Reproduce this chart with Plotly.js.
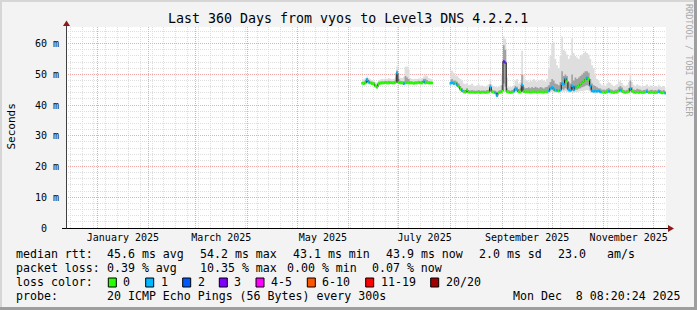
<!DOCTYPE html>
<html><head><meta charset="utf-8">
<script src="https://cdn.plot.ly/plotly-3.0.1.min.js"></script>
<style>html,body{margin:0;padding:0;background:#f3f3f3;}#chart{width:697px;height:310px;}</style>
</head><body><div id="chart"></div>
<script>
// ---------- data ----------
const rangeStart = '2024-12-13 08:20:24';
const rangeEnd = '2025-12-08 08:20:24';
const monthStarts = ['2025-01-01','2025-02-01','2025-03-01','2025-04-01','2025-05-01','2025-06-01','2025-07-01','2025-08-01','2025-09-01','2025-10-01','2025-11-01','2025-12-01'];
const monthLabelDates = ['2025-01-16 12:00','2025-03-16 12:00','2025-05-16 12:00','2025-07-16 12:00','2025-09-16','2025-11-16'];
const monthLabels = ['January 2025','March 2025','May 2025','July 2025','September 2025','November 2025'];
const yTickVals = [0,10,20,30,40,50,60];
const yTickText = ['0\u00a0\u00a0','10 m','20 m','30 m','40 m','50 m','60 m'];

// segment 1: daily from 2025-06-09 (43 days); segment 2: daily from 2025-08-01 (130 days)
const segStarts = ['2025-06-09','2025-08-01'];

// values in ms
const med1 = [47.1,47.0,47.2,48.3,47.5,47.2,47.0,46.9,46.2,45.8,47.0,47.1,47.2,47.2,47.3,47.2,47.2,47.3,47.2,47.2,47.4,50.5,47.3,47.2,47.2,47.0,47.2,47.3,47.2,47.2,47.2,47.1,47.2,47.2,47.3,47.2,47.2,47.7,47.2,47.3,47.2,47.2,47.2];
const loss1 = [0,0,0,1,1,0,0,0,0,0,0,0,0,0,0,0,0,0,0,0,0,1,0,0,0,1,0,0,0,0,0,0,0,0,0,0,0,1,0,0,0,0,0];
const min1 = [46.6,46.5,46.7,46.9,46.8,46.7,46.5,46.4,45.7,45.3,46.5,46.6,46.7,46.7,46.8,46.7,46.7,46.8,46.7,46.7,46.8,47.0,46.8,46.7,46.7,46.5,46.7,46.8,46.7,46.7,46.7,46.6,46.7,46.7,46.8,46.7,46.7,46.9,46.7,46.8,46.7,46.7,46.7];
const innerLo1 = [46.9,46.8,47.0,47.4,47.1,46.9,46.8,46.7,45.9,45.6,46.8,46.9,47.0,47.0,47.1,47.0,47.0,47.1,47.0,47.0,47.1,47.8,47.0,47.0,47.0,46.8,47.0,47.1,47.0,47.0,47.0,46.9,47.0,47.0,47.1,47.0,47.0,47.3,47.0,47.1,47.0,47.0,47.0];
const innerHi1 = [47.6,47.6,48.0,48.8,48.2,47.8,47.6,47.5,46.8,46.5,47.6,47.7,47.8,47.7,47.9,47.8,47.9,47.8,47.7,47.8,48.0,51.3,48.5,47.9,47.8,47.8,49.5,49.0,48.5,47.8,47.7,47.6,47.8,47.7,47.9,47.8,47.9,48.5,48.6,48.2,47.8,47.7,47.6];
const max1 = [48.0,48.3,48.8,49.3,48.8,48.4,48.2,48.0,47.5,47.3,48.2,48.3,48.6,48.4,48.7,48.5,48.8,48.6,48.4,48.5,49.0,52.6,50.5,49.0,48.8,49.2,52.5,52.6,51.5,48.8,48.5,48.4,48.6,48.5,48.7,48.6,48.8,49.3,49.9,49.5,48.8,48.6,48.4];

const med2 = [
 47.1,47.3,47.0,47.2,46.6,46.0,45.2,44.7,44.3,44.2,
 44.9,44.2,44.2,44.2,44.2,44.1,44.2,44.2,44.1,44.2,
 44.2,44.1,44.2,44.3,45.9,44.3,44.2,44.0,43.1,44.1,
 44.2,44.5,54.2,53.8,44.4,44.2,44.1,44.2,44.5,45.3,
 45.1,44.3,44.3,46.6,44.4,44.3,44.3,44.3,44.2,44.3,
 44.3,44.3,44.2,44.3,44.3,44.3,44.2,44.3,44.3,44.6,
 45.5,45.8,45.2,44.8,44.8,44.6,44.9,47.0,46.8,48.6,
 47.8,45.0,44.8,46.3,45.0,46.0,45.8,46.3,46.8,47.3,
 47.8,48.3,48.9,48.4,46.3,44.6,44.5,44.6,44.5,44.6,
 44.3,44.2,44.2,44.1,44.4,44.5,44.3,44.2,44.1,44.2,
 44.2,44.6,44.9,44.5,44.2,44.1,44.2,44.4,45.4,44.5,
 44.2,44.1,44.2,44.1,44.2,44.1,44.1,44.2,44.4,44.1,
 44.1,44.2,44.0,44.1,44.1,44.4,44.1,44.0,44.1,43.9];
const loss2 = [
 1,1,1,0,1,0,0,1,0,0,
 0,0,0,0,0,0,0,0,0,0,
 0,0,0,0,1,0,0,1,1,0,
 0,0,3,2,0,0,0,0,1,1,
 1,0,0,1,0,0,0,0,0,0,
 0,0,0,0,0,0,0,0,0,1,
 1,1,1,0,1,0,1,1,1,1,
 0,1,1,1,1,1,0,0,0,0,
 0,0,1,0,1,1,1,1,1,1,
 1,0,0,0,0,1,0,0,0,0,
 0,0,1,0,0,0,0,0,1,0,
 0,0,0,0,0,0,0,0,1,0,
 0,0,0,0,0,1,0,0,0,1];
const min2 = [
 46.5,46.6,46.4,46.5,45.9,45.3,44.6,44.0,43.8,43.8,
 43.9,43.8,43.8,43.8,43.8,43.7,43.8,43.8,43.7,43.8,
 43.8,43.7,43.8,43.9,44.0,43.9,43.8,43.6,42.8,43.7,
 43.8,43.9,44.2,44.3,43.9,43.8,43.7,43.8,44.0,44.0,
 44.0,43.9,43.9,44.1,43.9,43.9,43.9,43.9,43.8,43.9,
 43.9,43.9,43.8,43.9,43.9,43.9,43.8,43.9,43.9,44.0,
 44.2,44.3,44.1,44.0,44.0,43.9,44.1,44.4,44.3,44.5,
 44.3,44.0,44.0,44.2,44.0,44.3,44.3,44.4,44.5,44.6,
 44.7,44.8,44.9,44.8,44.3,44.0,43.9,43.9,43.9,44.0,
 43.9,43.9,43.9,43.8,43.9,44.0,43.9,43.9,43.8,43.9,
 43.9,44.0,44.1,44.0,43.9,43.8,43.9,44.0,44.2,44.0,
 43.9,43.8,43.9,43.8,43.9,43.8,43.8,43.9,44.0,43.8,
 43.8,43.9,43.7,43.8,43.8,44.0,43.8,43.7,43.8,43.6];
const innerLo2 = [
 46.9,47.0,46.8,46.9,46.3,45.7,45.0,44.4,44.1,44.0,
 44.1,44.0,44.0,44.0,44.0,43.9,44.0,44.0,43.9,44.0,
 44.0,43.9,44.0,44.1,44.5,44.1,44.0,43.8,43.0,43.9,
 44.0,44.2,47.0,46.0,44.1,44.0,43.9,44.0,44.3,44.6,
 44.5,44.1,44.1,44.6,44.1,44.1,44.1,44.1,44.0,44.1,
 44.1,44.1,44.0,44.1,44.1,44.1,44.0,44.1,44.1,44.3,
 44.8,45.0,44.6,44.4,44.4,44.3,44.5,45.2,45.0,45.5,
 45.2,44.5,44.4,44.8,44.5,45.0,45.0,45.3,45.5,45.8,
 46.0,46.3,46.5,46.2,45.0,44.3,44.2,44.2,44.2,44.3,
 44.1,44.0,44.0,43.9,44.1,44.2,44.1,44.0,43.9,44.0,
 44.0,44.3,44.5,44.2,44.0,43.9,44.0,44.1,44.6,44.2,
 44.0,43.9,44.0,43.9,44.0,43.9,43.9,44.0,44.1,43.9,
 43.9,44.0,43.8,43.9,43.9,44.1,43.9,43.8,43.9,43.7];
const innerHi2 = [
 48.2,48.5,48.0,48.0,47.6,47.0,46.2,45.6,45.0,44.9,
 45.5,44.8,44.8,44.9,44.8,44.7,44.8,44.9,44.7,44.8,
 44.8,44.7,44.9,45.0,46.8,45.0,44.8,44.7,44.0,44.7,
 44.9,46.5,59.5,58.0,45.5,44.9,44.7,44.9,45.3,46.2,
 46.0,45.2,45.5,50.0,46.0,45.5,45.6,45.8,45.5,45.9,
 45.6,46.0,45.7,45.5,45.9,45.7,45.4,45.8,46.0,46.5,
 47.5,48.5,48.0,47.0,46.8,46.5,47.5,51.0,49.5,50.0,
 49.5,47.5,47.0,50.0,48.0,49.0,48.5,49.0,49.5,50.0,
 50.5,51.0,51.0,50.5,48.5,47.0,46.5,46.2,45.8,45.5,
 45.4,45.0,45.1,44.9,45.3,45.6,45.2,45.0,44.8,45.0,
 45.1,45.8,46.2,45.7,45.0,44.8,45.0,45.6,48.0,45.8,
 45.1,44.9,45.3,45.2,45.0,44.8,44.9,45.0,45.3,44.8,
 44.9,45.0,44.8,44.9,44.8,45.2,44.9,44.7,44.9,44.6];
const max2 = [
 51.5,51.2,50.5,49.8,49.5,49.0,48.5,48.0,47.0,46.8,
 47.2,46.5,46.6,47.0,46.4,46.2,46.5,46.8,46.3,46.5,
 46.2,46.0,46.4,46.8,48.5,46.5,46.2,46.0,45.8,46.0,
 46.5,50.0,62.3,61.5,49.0,46.0,45.8,46.0,46.5,48.0,
 48.5,47.0,47.5,57.7,50.0,48.0,48.0,47.6,48.3,47.8,
 48.5,48.0,47.5,48.2,47.9,48.4,48.0,47.7,48.6,52.0,
 56.0,60.0,60.5,55.0,53.0,52.0,56.0,62.3,58.0,57.5,
 56.5,55.0,56.0,61.8,57.0,56.0,55.5,55.0,56.0,56.5,
 57.0,57.5,57.0,56.5,55.0,53.0,52.0,50.0,48.5,48.0,
 47.0,46.5,46.8,46.3,47.0,47.5,47.2,46.6,46.2,46.5,
 46.8,47.5,48.0,47.2,46.5,46.2,46.6,47.5,50.4,47.5,
 46.6,46.2,46.8,46.5,46.3,46.0,46.2,46.4,46.8,46.0,
 46.5,46.3,46.0,46.2,46.0,46.6,46.1,45.9,46.2,45.8];

const lossLabels = ['0','1','2','3','4-5','6-10','11-19','20/20'];
const lossColors = ['#26ff00','#00b8ff','#0059ff','#7e00ff','#ff00ff','#ff5500','#ff0000','#a10000'];
const lossUpper = [0,1,2,3,5,10,19,20];

const titleText = 'Last 360 Days from vyos to Level3 DNS 4.2.2.1';
const rttTexts = ['median rtt:','45.6 ms avg','54.2 ms max','43.1 ms min','43.9 ms now','2.0 ms sd','23.0','am/s'];
const lossTexts = ['packet loss:','0.39 % avg','10.35 % max','0.00 % min','0.07 % now'];
const probeTexts = ['probe:','20 ICMP Echo Pings (56 Bytes) every 300s','Mon Dec \u00a08 08:20:24 2025'];

// ---------- build ----------
const DAY = 86400000;
function days(start, n){
  const t0 = Date.parse(start + 'T00:00:00Z');
  return Array.from({length:n}, (_, i) => t0 + i*DAY);
}
const iso = t => new Date(t).toISOString().slice(0,19).replace('T',' ');
function bucket(l){
  for (let k = 0; k < lossUpper.length; k++) if (l <= lossUpper[k]) return k;
  return lossUpper.length - 1;
}
const segs = [
  {t: days(segStarts[0], med1.length), med: med1, loss: loss1, mn: min1, lo: innerLo1, hi: innerHi1, mx: max1},
  {t: days(segStarts[1], med2.length), med: med2, loss: loss2, mn: min2, lo: innerLo2, hi: innerHi2, mx: max2}
];
segs.forEach(s => { s.x = s.t.map(iso); });
const traces = [];
const base = {type:'scatter', mode:'lines', hoverinfo:'skip', showlegend:false, xaxis:'x', yaxis:'y'};
segs.forEach(s => {
  traces.push(Object.assign({}, base, {x:s.x, y:s.mn, line:{width:0, shape:'hvh'}}));
  traces.push(Object.assign({}, base, {x:s.x, y:s.mx, line:{width:0, shape:'hvh'}, fill:'tonexty', fillcolor:'#dedede'}));
  traces.push(Object.assign({}, base, {x:s.x, y:s.lo, line:{width:0, shape:'hvh'}}));
  traces.push(Object.assign({}, base, {x:s.x, y:s.hi, line:{width:0, shape:'hvh'}, fill:'tonexty', fillcolor:'#a2a2a2'}));
});
// median: thin dark connector + coloured dash per sample (colour = loss bucket)
segs.forEach(s => {
  traces.push(Object.assign({}, base, {x:s.x, y:s.med, xaxis:'x2', line:{width:1, color:'#1a1a1a', shape:'hvh'}}));
});
lossColors.forEach((c, k) => {
  const xs = [], ys = [];
  segs.forEach(s => {
    s.med.forEach((v, i) => {
      if (bucket(s.loss[i]) !== k) return;
      xs.push(iso(s.t[i] - DAY*0.55), iso(s.t[i] + DAY*0.55), null);
      ys.push(v, v, null);
    });
  });
  if (xs.length) traces.push(Object.assign({}, base, {x:xs, y:ys, xaxis:'x2', connectgaps:false, line:{width:2.6, color:c}}));
});

// pixel helpers (plot area: x 66..666, y 27..228)
const px = x => (x - 66) / 600;
const py = y => (228 - y) / 201;
const FONT = 'DejaVu Sans Mono';
const annotations = [];
function txt(t, x, y, size, extra){
  annotations.push(Object.assign({text:t, x:px(x), y:py(y), xref:'paper', yref:'paper', showarrow:false,
    xanchor:'left', yanchor:'middle', borderpad:0, borderwidth:0, font:{family:FONT, size:size, color:'#000'}}, extra||{}));
}
txt(titleText, 348, 19, 13.3, {xanchor:'center'});
txt('Seconds', 11.5, 127, 11, {xanchor:'center', textangle:-90});
txt('RRDTOOL / TOBI OETIKER', 688.5, 4, 8.5, {xanchor:'center', yanchor:'top', textangle:90, font:{family:FONT, size:8.5, color:'#a8a8a8'}});
const LS = 11.6;
const rttX = [16,107.3,200,293.3,385.7,479,558.3,606.7];
rttTexts.forEach((t,i) => txt(t, rttX[i], 254.3, LS));
const lossX = [16,107.3,200,286.5,372.3];
lossTexts.forEach((t,i) => txt(t, lossX[i], 268.3, LS));
txt('loss color:', 16, 282.3, LS);
const boxX = [108.3,145.7,182.7,219.3,256,307.3,365.7,430.7];
const shapes = [];
lossLabels.forEach((t,i) => {
  shapes.push({type:'rect', xref:'paper', yref:'paper', x0:px(boxX[i]), x1:px(boxX[i]+8), y0:py(287), y1:py(278),
    fillcolor:lossColors[i], line:{color:'#000', width:1}});
  txt(t, boxX[i]+15, 282.3, LS);
});
const probeX = [16,107.3,512.7];
probeTexts.forEach((t,i) => txt(t, probeX[i], 296.2, LS));

// frame + axes
shapes.push({type:'rect', xref:'paper', yref:'paper', x0:px(0), x1:px(697), y0:py(2), y1:py(0), fillcolor:'#d6d6d6', line:{width:0}});
shapes.push({type:'rect', xref:'paper', yref:'paper', x0:px(0), x1:px(2), y0:py(310), y1:py(0), fillcolor:'#d6d6d6', line:{width:0}});
shapes.push({type:'rect', xref:'paper', yref:'paper', x0:px(0), x1:px(697), y0:py(310), y1:py(307), fillcolor:'#9e9e9e', line:{width:0}});
shapes.push({type:'rect', xref:'paper', yref:'paper', x0:px(694), x1:px(697), y0:py(310), y1:py(0), fillcolor:'#9e9e9e', line:{width:0}});
shapes.push({type:'line', xref:'paper', yref:'paper', x0:px(62), x1:px(669), y0:py(228.5), y1:py(228.5), line:{color:'#000', width:1}});
shapes.push({type:'line', xref:'paper', yref:'paper', x0:px(66.5), x1:px(66.5), y0:py(228.5), y1:py(25), line:{color:'#404040', width:1}});
shapes.push({type:'path', xref:'paper', yref:'paper',
  path:`M ${px(668)},${py(225)} L ${px(674)},${py(228.5)} L ${px(668)},${py(232)} Z`, fillcolor:'#8b1a1a', line:{width:0}});
shapes.push({type:'path', xref:'paper', yref:'paper',
  path:`M ${px(63)},${py(26)} L ${px(66.5)},${py(20.5)} L ${px(70)},${py(26)} Z`, fillcolor:'#8b1a1a', line:{width:0}});

const GRIDMAJ = '#f2a9a9', GRIDMIN = '#dedede', DASH = '1px,1px';
const layout = {
  width:697, height:310, margin:{l:66, r:31, t:27, b:82, pad:0},
  paper_bgcolor:'#f3f3f3', plot_bgcolor:'#ffffff', showlegend:false,
  font:{family:FONT, size:10, color:'#000'},
  xaxis:{type:'date', range:[rangeStart, rangeEnd], tickmode:'array', tickvals:monthStarts, showticklabels:false, ticks:'',
    showgrid:true, gridcolor:GRIDMAJ, griddash:DASH, gridwidth:1, zeroline:false, showline:false, fixedrange:true,
    minor:{tickmode:'linear', tick0:'2024-12-16', dtick:7*DAY, showgrid:true, gridcolor:GRIDMIN, griddash:DASH, ticks:''}},
  xaxis2:{type:'date', overlaying:'x', anchor:'y', side:'bottom', range:[rangeStart, rangeEnd], tickmode:'array',
    tickvals:monthLabelDates, ticktext:monthLabels, showgrid:false, zeroline:false, showline:false, ticks:'',
    ticklabelstandoff:2, tickfont:{family:FONT, size:10, color:'#000'}, fixedrange:true},
  yaxis:{range:[0, 65.43], tickmode:'array', tickvals:yTickVals, ticktext:yTickText, showgrid:true, gridcolor:GRIDMAJ,
    griddash:DASH, zeroline:false, showline:false, ticks:'outside', ticklen:4, tickcolor:'rgba(0,0,0,0)',
    tickfont:{family:FONT, size:10, color:'#000'}, fixedrange:true,
    minor:{tickmode:'linear', tick0:0, dtick:2, showgrid:true, gridcolor:GRIDMIN, griddash:DASH, ticks:''}},
  shapes: shapes, annotations: annotations
};
Plotly.newPlot('chart', traces, layout, {staticPlot:true, displayModeBar:false});
</script></body></html>
